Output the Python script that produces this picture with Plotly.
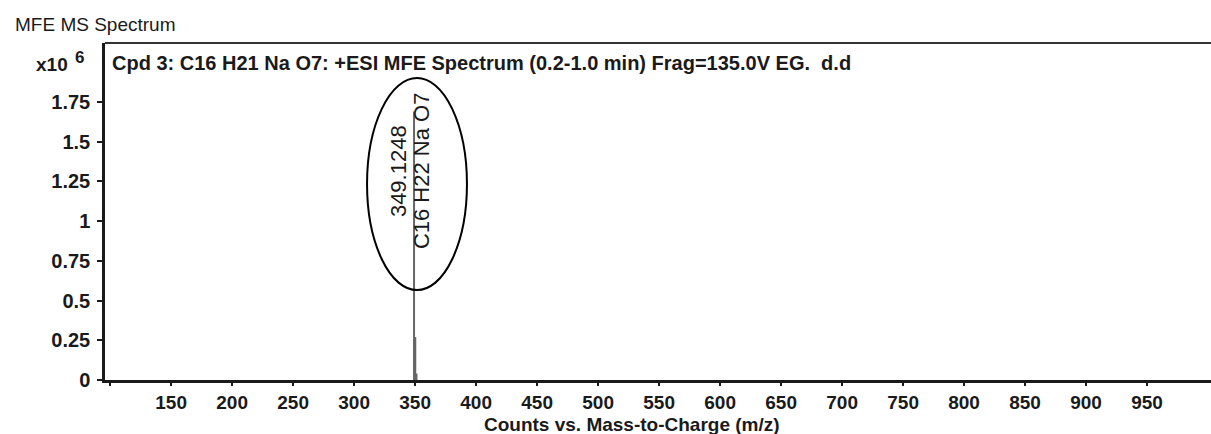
import plotly.graph_objects as go

# ---- data ----
peak_mz = [349.1248, 350.128, 351.13]
peak_intensity = [1.69, 0.27, 0.04]  # x10^6 counts
x_tick_vals = [100, 150, 200, 250, 300, 350, 400, 450, 500, 550, 600, 650, 700, 750, 800, 850, 900, 950]
x_tick_text = ["", "150", "200", "250", "300", "350", "400", "450", "500", "550", "600", "650", "700", "750", "800", "850", "900", "950"]
y_tick_vals = [0, 0.25, 0.5, 0.75, 1, 1.25, 1.5, 1.75]
y_tick_text = ["0", "0.25", "0.5", "0.75", "1", "1.25", "1.5", "1.75"]
peak_label_mz = "349.1248"
peak_label_formula = "C16 H22 Na O7"

# build stick spectrum
xs, ys = [], []
for m, v in zip(peak_mz, peak_intensity):
    xs += [m, m, None]
    ys += [0, v, None]

FONT = "Liberation Sans, Arial, sans-serif"
INK = "#1a1a1a"
L, T, PW, PH = 105, 43, 1106, 337


def px(xp):
    return (xp - L) / PW


def py(yp):
    return (T + PH - yp) / PH


fig = go.Figure()
fig.add_trace(go.Scatter(x=xs, y=ys, mode="lines",
                         line=dict(color="#666666", width=2),
                         hoverinfo="skip", showlegend=False))

fig.update_layout(
    width=1211, height=434,
    margin=dict(l=105, r=0, t=43, b=54),
    paper_bgcolor="white", plot_bgcolor="white",
    font=dict(family=FONT, color=INK),
    showlegend=False,
)
fig.update_xaxes(
    range=[95.8, 1002.4],
    tickmode="array", tickvals=x_tick_vals, ticktext=x_tick_text,
    ticks="outside", ticklen=3, tickwidth=1.5, tickcolor=INK,
    showline=True, linecolor=INK, linewidth=3,
    showgrid=False, zeroline=False,
    tickfont=dict(family=FONT, size=19, color=INK, weight="bold"),
    ticklabelstandoff=0,
)
fig.update_yaxes(
    range=[0, 2.121],
    tickmode="array", tickvals=y_tick_vals, ticktext=y_tick_text,
    ticks="outside", ticklen=5, tickwidth=1.5, tickcolor=INK,
    showline=True, linecolor=INK, linewidth=2.5,
    showgrid=False, zeroline=False,
    tickfont=dict(family=FONT, size=20, color=INK, weight="bold"),
    ticklabelstandoff=3,
)

# top frame line
fig.add_shape(type="line", xref="paper", yref="paper", x0=0, x1=1, y0=1, y1=1,
              line=dict(color="#333333", width=2))

# ellipse around the peak label
fig.add_shape(type="circle", xref="x", yref="y",
              x0=310.6, x1=392.5, y0=0.566, y1=1.90,
              line=dict(color="black", width=2))

# peak annotations (rotated)
fig.add_annotation(x=peak_mz[0], y=1.315, xref="x", yref="y",
                   text=peak_label_mz, textangle=-90, showarrow=False,
                   xshift=-16, font=dict(family=FONT, size=22, color=INK))
fig.add_annotation(x=peak_mz[0], y=1.315, xref="x", yref="y",
                   text=peak_label_formula, textangle=-90, showarrow=False,
                   xshift=7, font=dict(family=FONT, size=22, color=INK))

# titles
fig.add_annotation(x=px(13), y=py(25), xref="paper", yref="paper", text="MFE MS Spectrum",
                   showarrow=False, xanchor="left", yanchor="middle",
                   font=dict(family=FONT, size=19, color=INK))
fig.add_annotation(x=px(110), y=py(63), xref="paper", yref="paper",
                   text="Cpd 3: C16 H21 Na O7: +ESI MFE Spectrum (0.2-1.0 min) Frag=135.0V EG.  d.d",
                   showarrow=False, xanchor="left", yanchor="middle",
                   font=dict(family=FONT, size=20, color=INK, weight="bold"))
fig.add_annotation(x=px(70), y=py(64), xref="paper", yref="paper",
                   text="x10", showarrow=False, xanchor="right", yanchor="middle",
                   font=dict(family=FONT, size=19, color=INK, weight="bold"))
fig.add_annotation(x=px(73), y=py(58), xref="paper", yref="paper",
                   text="6", showarrow=False, xanchor="left", yanchor="middle",
                   font=dict(family=FONT, size=17, color=INK, weight="bold"))
fig.add_annotation(x=px(632), y=py(424), xref="paper", yref="paper",
                   text="Counts vs. Mass-to-Charge (m/z)", showarrow=False,
                   xanchor="center", yanchor="middle",
                   font=dict(family=FONT, size=19, color=INK, weight="bold"))

fig.write_html("out.html")
